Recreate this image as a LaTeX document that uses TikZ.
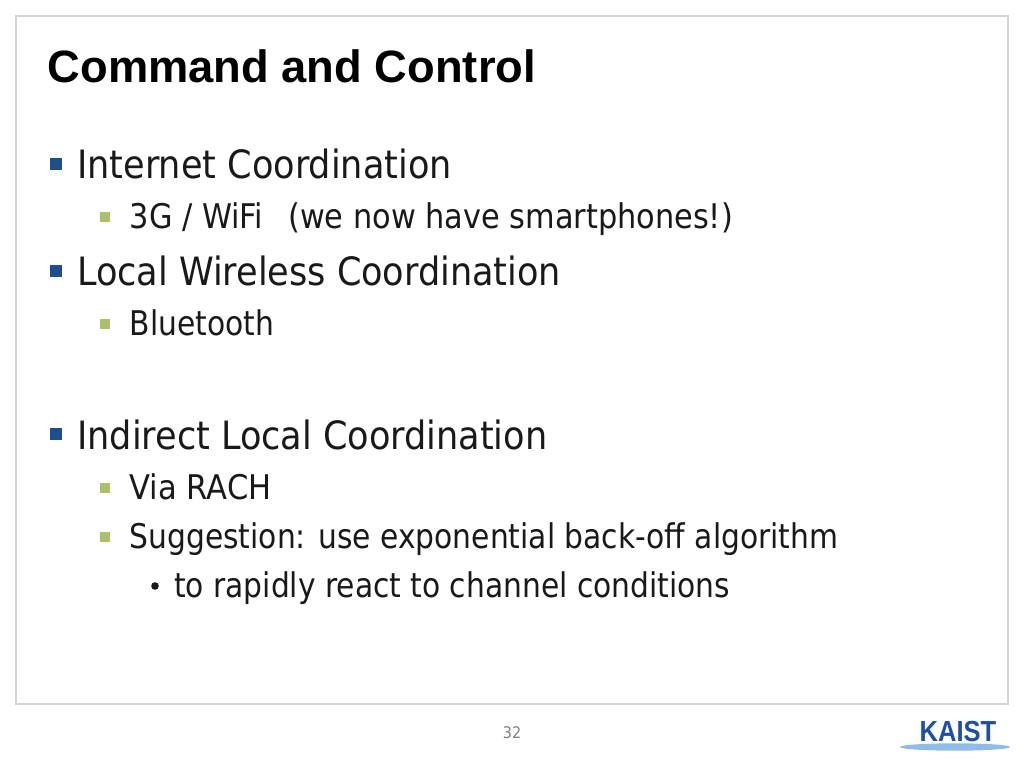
\documentclass[tikz,border=0pt]{standalone}
\usepackage{fontspec}
\setmainfont{Liberation Sans}
\newfontfamily\bodyfont{DejaVu Sans Condensed}
\definecolor{frameg}{HTML}{D4D4D4}
\definecolor{blueb}{HTML}{1F4E8C}
\definecolor{greenb}{HTML}{A9C267}
\definecolor{kaist}{HTML}{1F4FA0}
\definecolor{kaistl}{HTML}{8DBDE8}
\tikzset{x=1pt,y=-1pt,
 lone/.style={anchor=base west,inner sep=0,font=\bodyfont\fontsize{39}{42}\selectfont,text=black!90},
 ltwo/.style={anchor=base west,inner sep=0,font=\bodyfont\fontsize{34}{38}\selectfont,text=black!90},
 tight/.style={xscale=.972,transform shape},
 bone/.style={fill=blueb,draw=none,minimum size=12pt,inner sep=0},
 btwo/.style={fill=greenb,draw=none,minimum size=10pt,inner sep=0}}
\begin{document}
\begin{tikzpicture}
\useasboundingbox (0,0) rectangle (1024,768);
\fill[white] (0,0) rectangle (1024,768);
\draw[frameg,line width=1.5pt] (16,16) rectangle (1008,704);
\node[anchor=base west,inner sep=0,font=\bfseries\fontsize{45.3}{50}\selectfont] (title) at (47.5,82) {Command and Control};
\node[bone] (b1) at (56,164) {}; \node[lone] (t1) at (77,178) {Internet Coordination};
\node[btwo] (b2) at (105,217) {}; \node[ltwo,xscale=.993,transform shape] (t2) at (129.5,228) {3G / WiFi\ \ \,(we now have smartphones!)};
\node[bone] (b3) at (56,271) {}; \node[lone] (t3) at (77,285) {Local Wireless Coordination};
\node[btwo] (b4) at (105,324) {}; \node[ltwo,tight] (t4) at (129.5,335) {Bluetooth};
\node[bone] (b5) at (56,434) {}; \node[lone] (t5) at (77,449) {Indirect Local Coordination};
\node[btwo] (b6) at (105,488) {}; \node[ltwo] (t6) at (129.5,499) {Via RACH};
\node[btwo] (b7) at (105,537) {}; \node[ltwo,tight] (t7) at (129.5,548) {Suggestion: use exponential back-off algorithm};
\fill[black!90] (155,586) circle (3.8pt);
\node[ltwo,tight] (t8) at (174,597) {to rapidly react to channel conditions};
\node[anchor=base,inner sep=0,font=\bodyfont\fontsize{16}{18}\selectfont,text=black!50] (num) at (512,738) {32};
\fill[kaistl] (955,747) ellipse (55 and 3.7);
\node[anchor=base,inner sep=0,xscale=.88,transform shape,font=\bfseries\fontsize{29}{30}\selectfont,text=kaist] (logo) at (958,741) {KAIST};
\end{tikzpicture}
\end{document}
